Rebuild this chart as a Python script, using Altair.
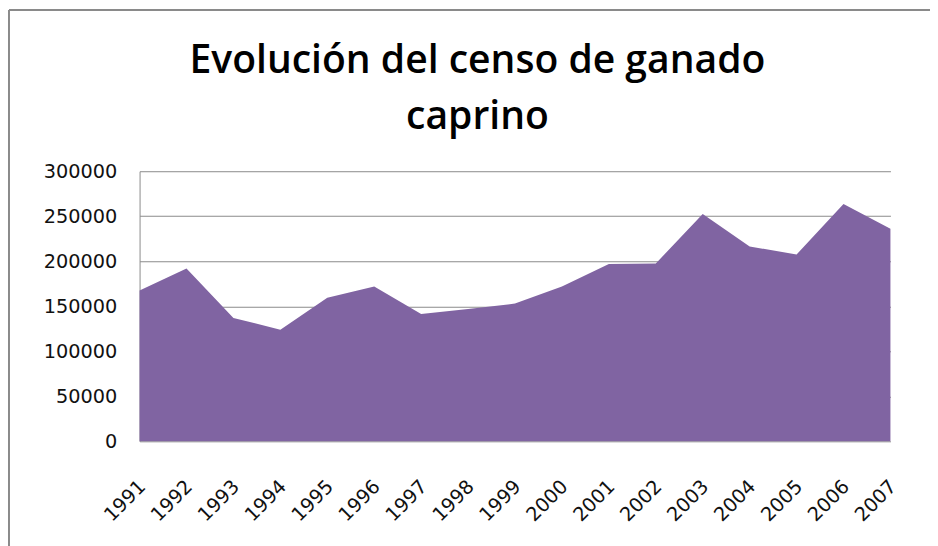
import altair as alt
import pandas as pd

years = ["1991", "1992", "1993", "1994", "1995", "1996", "1997", "1998", "1999",
         "2000", "2001", "2002", "2003", "2004", "2005", "2006", "2007"]
values = [167500, 192000, 137000, 124000, 159500, 172000, 141500, 147000, 153000,
          172000, 197000, 197500, 252500, 216500, 207500, 263500, 236000]
y_ticks = [0, 50000, 100000, 150000, 200000, 250000, 300000]

df = pd.DataFrame({"year": years, "value": values})
frame_df = pd.DataFrame({"a": [0]})

grey = "#8a8a8a"

area = alt.Chart(df).mark_area(color="#8064A2", opacity=1).encode(
    x=alt.X("year:O", sort=None,
            scale=alt.Scale(type="point", padding=0),
            axis=alt.Axis(title=None, labelAngle=-45, labelAlign="right",
                          labelBaseline="top", labelPadding=36, labelOffset=-4,
                          ticks=False, tickSize=0, domain=False, grid=False,
                          labelFont="DejaVu Sans", labelFontSize=19.5,
                          labelColor="#111111")),
    y=alt.Y("value:Q", scale=alt.Scale(domain=[0, 300000]),
            axis=alt.Axis(title=None, values=y_ticks, format="d",
                          ticks=False, tickSize=0, labelPadding=23,
                          grid=True, gridColor=grey, gridWidth=1,
                          domain=True, domainColor=grey, domainWidth=1,
                          labelFont="DejaVu Sans", labelFontSize=19.5,
                          labelColor="#111111")),
)

left_line = alt.Chart(frame_df).mark_rule(color=grey, strokeWidth=2).encode(
    x=alt.value(-132), y=alt.value(-163), y2=alt.value(700))
top_line = alt.Chart(frame_df).mark_rule(color=grey, strokeWidth=2).encode(
    x=alt.value(-132), x2=alt.value(1200), y=alt.value(-163))

chart = alt.layer(area, left_line, top_line).properties(
    width=759, height=273,
    padding={"left": 133, "top": 162, "right": 40, "bottom": 120},
    autosize=alt.AutoSizeParams(type="none"),
    background="white",
    title=alt.TitleParams(["Evolución del censo de ganado", "caprino"],
                          font="Open Sans", fontSize=39.5, fontWeight=600,
                          lineHeight=57, anchor="middle", frame="group",
                          baseline="alphabetic", dx=-38, dy=161, offset=0,
                          color="black"),
).configure_view(stroke=None)

chart.save("out.html", embed_options={"renderer": "svg", "actions": False})
